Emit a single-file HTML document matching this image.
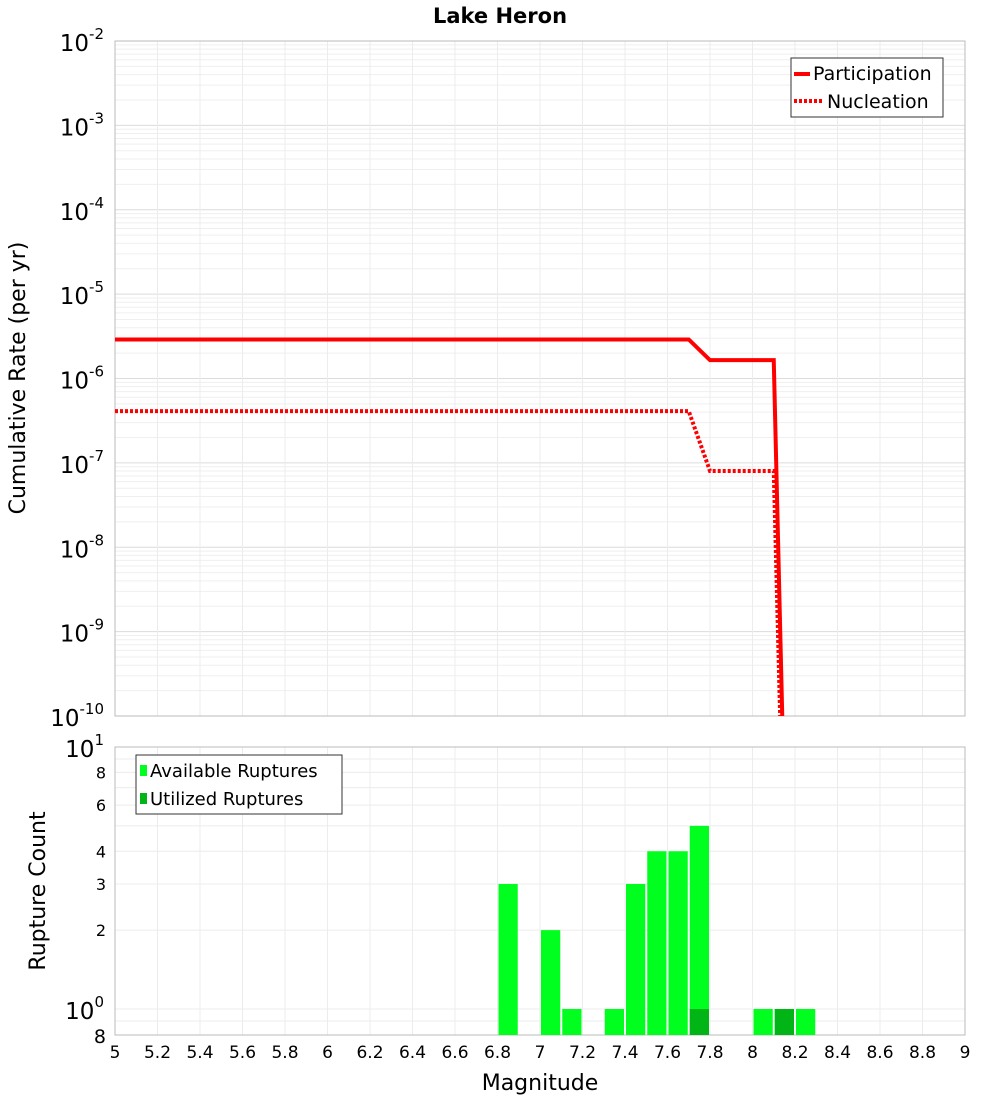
<!DOCTYPE html>
<html><head><meta charset="utf-8"><style>
body{margin:0;background:#fff;font-family:"Liberation Sans","DejaVu Sans",sans-serif}
</style></head><body>
<svg id="c" width="1000" height="1100" xmlns="http://www.w3.org/2000/svg" font-family="DejaVu Sans, Liberation Sans, sans-serif">
<text x="500" y="23" text-anchor="middle" font-size="21" font-weight="bold">Lake Heron</text>
<g id="topg"></g><g id="botg"></g>
</svg>
<script>
const magsP=[5,7.7,7.8,8.1,8.14];
const rateP=[2.9e-6,2.9e-6,1.65e-6,1.65e-6,1e-10];
const magsN=[5,7.7,7.8,8.1,8.13];
const rateN=[4.1e-7,4.1e-7,8e-8,8e-8,1e-10];
const binCenters=[6.85,7.05,7.15,7.35,7.45,7.55,7.65,7.75,8.05,8.15,8.25];
const available=[3,2,1,1,3,4,4,5,1,1,1];
const utilized=[0,0,0,0,0,0,0,1,0,1,0];
const xTicks=[5,5.2,5.4,5.6,5.8,6,6.2,6.4,6.6,6.8,7,7.2,7.4,7.6,7.8,8,8.2,8.4,8.6,8.8,9];
const topExps=[-2,-3,-4,-5,-6,-7,-8,-9,-10];
const botTicks=[2,3,4,6,8];

const NS="http://www.w3.org/2000/svg";
const L=115,R=965;
const X=m=>L+(m-5)/4*(R-L);
const T0=41,T1=716;
const YT=v=>T0+(-2-Math.log10(v))*(T1-T0)/8;
const B0=747,B1=1035;
const YB=v=>1009-Math.log10(v)*262;
function mk(p,tag,a,txt){const e=document.createElementNS(NS,tag);for(const k in a)e.setAttribute(k,a[k]);if(txt!==undefined)e.textContent=txt;p.appendChild(e);return e;}
const topG=document.getElementById('topg'),botG=document.getElementById('botg');
for(let d=-10;d<-2;d++)for(let k=1;k<10;k++){const y=YT(k*Math.pow(10,d));
 const g=mk(topG,'line',{x1:L,x2:R,y1:y,y2:y,stroke:k==1?'#dcdcdc':'#efefef','stroke-width':1});
 
 }
xTicks.forEach(t=>{const x=X(t);
 const g=mk(topG,'line',{x1:x,x2:x,y1:T0,y2:T1,stroke:'#ececec'});
 
 
 const h=mk(botG,'line',{x1:x,x2:x,y1:B0,y2:B1,stroke:'#ececec'});
 
 });
const fr=mk(topG,'rect',{x:L,y:T0,width:R-L,height:T1-T0,fill:'none',stroke:'#bbb'});


topExps.forEach(e=>{const y=YT(Math.pow(10,e));
 const t=mk(topG,'text',{x:104,y:y+10,'text-anchor':'end','font-size':23});
 
 
 t.textContent='10';mk(t,'tspan',{dy:-12,'font-size':15},String(e));});
const yl=mk(topG,'text',{x:25,y:378,'text-anchor':'middle','font-size':22,transform:'rotate(-90 25 378)'},'Cumulative Rate (per yr)');


const pl=mk(topG,'polyline',{points:magsP.map((m,i)=>X(m)+','+Math.min(YT(rateP[i]),T1+5)).join(' '),fill:'none',stroke:'#f00','stroke-width':4});


const nl=mk(topG,'polyline',{points:magsN.map((m,i)=>X(m)+','+Math.min(YT(rateN[i]),T1+5)).join(' '),fill:'none',stroke:'#f00','stroke-width':4,'stroke-dasharray':'3,2'});


const lg=mk(topG,'g',{});


mk(lg,'rect',{x:791,y:58,width:152,height:59,fill:'#fff',stroke:'#333'});
mk(lg,'line',{x1:794,x2:810,y1:74,y2:74,stroke:'#f00','stroke-width':4});
mk(lg,'text',{x:813,y:80,'font-size':19},'Participation');
mk(lg,'line',{x1:794,x2:822,y1:101,y2:101,stroke:'#f00','stroke-width':4,'stroke-dasharray':'3,2'});
mk(lg,'text',{x:827,y:108,'font-size':19},'Nucleation');
[0.9,1,2,3,4,5,6,7,8,9].forEach(v=>{const y=YB(v);const g=mk(botG,'line',{x1:L,x2:R,y1:y,y2:y,stroke:'#ececec'});
 
 });
const bf=mk(botG,'rect',{x:L,y:B0,width:R-L,height:B1-B0,fill:'none',stroke:'#bbb'});


const bw=(X(0.1)-X(0))-2;
binCenters.forEach((c,i)=>{const x=X(c)-bw/2;
 const r=mk(botG,'rect',{x:x,y:YB(available[i]),width:bw,height:B1-YB(available[i]),fill:'#00ff1e'});
 
 
 if(utilized[i]>0){const u=mk(botG,'rect',{x:x,y:YB(utilized[i]),width:bw,height:B1-YB(utilized[i]),fill:'#00b515'});
 
 }});
botTicks.forEach(v=>{const t=mk(botG,'text',{x:106,y:YB(v)+6,'text-anchor':'end','font-size':16},String(v));
 
 });
[[1,0],[10,1]].forEach(([v,e])=>{const t=mk(botG,'text',{x:104,y:YB(v)+10,'text-anchor':'end','font-size':23},'10');mk(t,'tspan',{dy:-12,'font-size':15},String(e));
 
 });
const e8=mk(botG,'text',{x:106,y:1043,'text-anchor':'end','font-size':19},'8');


const by=mk(botG,'text',{x:45,y:891,'text-anchor':'middle','font-size':22,transform:'rotate(-90 45 891)'},'Rupture Count');


xTicks.forEach(t=>{const x=X(t);const s=mk(botG,'text',{x:x,y:1058,'text-anchor':'middle','font-size':17},String(t));
 
 });
const xt=mk(botG,'text',{x:540,y:1090,'text-anchor':'middle','font-size':22},'Magnitude');


const bl=mk(botG,'g',{});


mk(bl,'rect',{x:136,y:755,width:206,height:59,fill:'#fff',stroke:'#333'});
mk(bl,'rect',{x:140,y:765,width:7,height:11,fill:'#00ff1e'});
mk(bl,'text',{x:150,y:777,'font-size':18},'Available Ruptures');
mk(bl,'rect',{x:140,y:793,width:7,height:11,fill:'#00b515'});
mk(bl,'text',{x:150,y:805,'font-size':18},'Utilized Ruptures');
</script>
</body></html>
